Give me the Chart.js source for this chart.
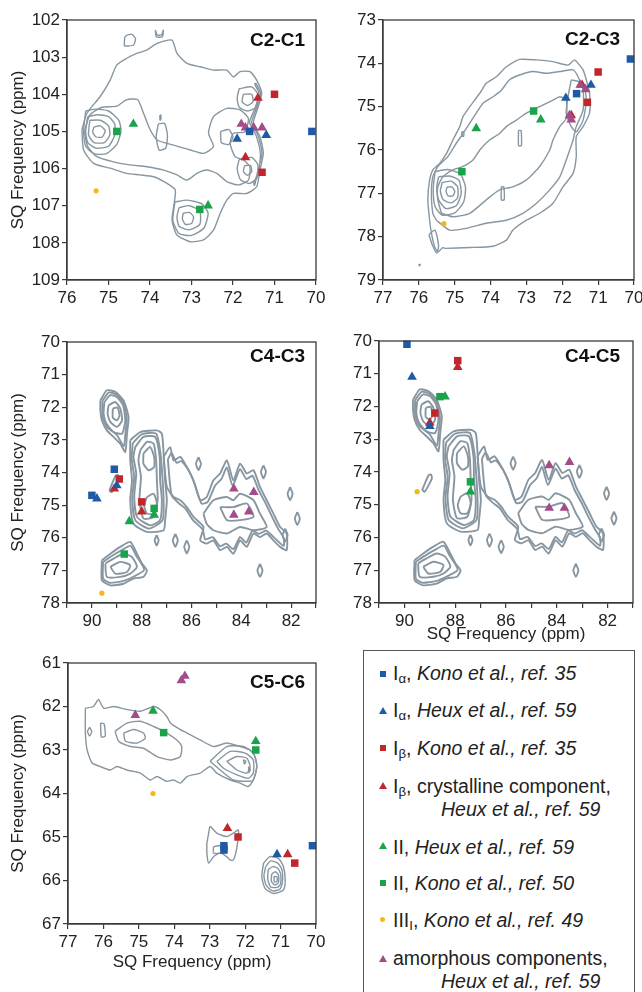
<!DOCTYPE html>
<html>
<head>
<meta charset="utf-8">
<script src="https://cdn.jsdelivr.net/npm/chart.js@4.4.1/dist/chart.umd.min.js"></script>
<style>
  body { margin: 0; background: #fff; width: 642px; height: 992px; position: relative; overflow: hidden; font-family: "Liberation Sans", Arial, sans-serif; }
  .panel { position: absolute; }
  #legend { position: absolute; left: 363px; top: 650px; width: 272px; height: 360px; border: 1.3px solid #555; box-sizing: border-box; font-size: 19.5px; color: #222; }
  #legend .row { position: absolute; left: 29px; white-space: nowrap; line-height: 22px; }
  #legend .row.cont { left: 77px; }
  #legend sub { font-size: 0.68em; vertical-align: -0.25em; }
  #legend .mk { position: absolute; }
  .sq { width: 6px; height: 6px; }
  .tri { width: 8px; height: 7px; clip-path: polygon(50% 0, 100% 100%, 0 100%); }
  .dot { width: 5px; height: 5px; border-radius: 50%; }
</style>
</head>
<body>
<div class="panel" style="left:0;top:0"><canvas id="c21" width="330" height="310"></canvas></div>
<div class="panel" style="left:330px;top:0"><canvas id="c23" width="320" height="310"></canvas></div>
<div class="panel" style="left:0;top:310px"><canvas id="c43" width="330" height="330"></canvas></div>
<div class="panel" style="left:330px;top:310px"><canvas id="c45" width="320" height="335"></canvas></div>
<div class="panel" style="left:0;top:640px"><canvas id="c56" width="330" height="352"></canvas></div>

<div id="legend">
  <div class="mk sq" style="left:16px;top:20px;background:#1f5aa6"></div>
  <div class="row" style="top:11px">I<sub>α</sub>, <i>Kono et al., ref. 35</i></div>
  <div class="mk tri" style="left:15px;top:56px;background:#1f5aa6"></div>
  <div class="row" style="top:48px">I<sub>α</sub>, <i>Heux et al., ref. 59</i></div>
  <div class="mk sq" style="left:16px;top:94px;background:#c0272d"></div>
  <div class="row" style="top:86px">I<sub>β</sub>, <i>Kono et al., ref. 35</i></div>
  <div class="mk tri" style="left:15px;top:131px;background:#c0272d"></div>
  <div class="row" style="top:124px">I<sub>β</sub>, crystalline component,</div>
  <div class="row cont" style="top:147px"><i>Heux et al., ref. 59</i></div>
  <div class="mk tri" style="left:15px;top:191px;background:#19a34a"></div>
  <div class="row" style="top:185px">II, <i>Heux et al., ref. 59</i></div>
  <div class="mk sq" style="left:16px;top:229px;background:#19a34a"></div>
  <div class="row" style="top:221px">II, <i>Kono et al., ref. 50</i></div>
  <div class="mk dot" style="left:16px;top:266px;background:#f7b719"></div>
  <div class="row" style="top:258px">III<sub>I</sub>, <i>Kono et al., ref. 49</i></div>
  <div class="mk tri" style="left:15px;top:304px;background:#a24c8a"></div>
  <div class="row" style="top:296px">amorphous components,</div>
  <div class="row cont" style="top:319px"><i>Heux et al., ref. 59</i></div>
</div>

<script>
// contour lines, [x ppm, y ppm] pairs; each list is one closed loop
const c21Contours = [
  [[75.64,104.96],[75.52,104.51],[75.20,104.06],[74.96,103.62],[74.80,103.21],[74.56,103.03],[74.32,102.90],[74.08,102.81],[73.83,102.63],[73.47,102.54],[73.35,102.90],[73.11,103.17],[72.79,103.26],[72.47,103.35],[72.15,103.35],[71.99,103.53],[71.83,103.39],[71.59,103.39],[71.43,103.62],[71.31,103.97],[71.39,104.33],[71.51,104.78],[71.35,105.14],[71.27,105.59],[71.35,106.04],[71.43,106.49],[71.67,106.67],[71.99,106.67],[72.15,106.85],[72.31,107.21],[72.47,107.66],[72.71,107.92],[73.03,107.97],[73.35,107.79],[73.47,107.39],[73.43,107.03],[73.39,106.58],[73.59,106.40],[73.91,106.22],[74.24,106.17],[74.56,106.13],[74.96,105.99],[75.36,105.86],[75.60,105.50]],
  [[75.58,105.01],[75.45,104.56],[75.16,104.35],[74.80,104.32],[74.57,104.15],[74.30,104.14],[74.17,104.47],[74.01,104.92],[73.83,105.23],[73.43,105.37],[73.03,105.50],[72.71,105.59],[72.47,105.41],[72.59,105.05],[72.47,104.60],[72.15,104.38],[71.83,104.42],[71.63,104.65],[71.71,105.01],[71.99,105.05],[72.07,105.32],[71.95,105.68],[71.75,105.77],[71.59,105.95],[71.63,106.31],[71.87,106.44],[72.15,106.35],[72.39,106.13],[72.63,106.04],[72.87,106.13],[73.11,106.31],[73.35,106.17],[73.67,106.04],[74.08,105.95],[74.48,105.90],[74.88,105.82],[75.28,105.68],[75.50,105.41]],
  [[75.55,104.45],[75.30,104.40],[75.00,104.45],[74.75,104.70],[74.70,105.00],[74.80,105.35],[75.05,105.60],[75.35,105.60],[75.55,105.40],[75.60,105.00]],
  [[75.50,104.60],[75.25,104.55],[75.00,104.60],[74.85,104.80],[74.85,105.10],[75.00,105.40],[75.30,105.45],[75.50,105.30],[75.55,105.00]],
  [[75.45,104.70],[75.20,104.70],[75.00,104.85],[74.97,105.10],[75.10,105.30],[75.35,105.30],[75.48,105.10]],
  [[75.35,104.88],[75.20,104.85],[75.08,104.98],[75.15,105.15],[75.30,105.15],[75.38,105.02]],
  [[73.40,106.90],[73.10,106.85],[72.75,106.95],[72.60,107.20],[72.70,107.60],[73.00,107.80],[73.30,107.75],[73.45,107.40]],
  [[73.30,107.05],[73.05,107.00],[72.80,107.15],[72.80,107.50],[73.05,107.65],[73.30,107.55],[73.35,107.30]],
  [[73.20,107.20],[73.05,107.18],[72.95,107.30],[73.00,107.48],[73.15,107.50],[73.22,107.35]],
  [[71.85,103.85],[71.55,103.80],[71.40,104.00],[71.45,104.35],[71.65,104.45],[71.85,104.35],[71.90,104.10]],
  [[71.75,104.00],[71.55,104.00],[71.52,104.20],[71.65,104.30],[71.78,104.20]],
  [[71.85,105.75],[71.55,105.70],[71.40,105.90],[71.42,106.25],[71.60,106.40],[71.82,106.30],[71.90,106.00]],
  [[71.72,105.92],[71.58,105.92],[71.55,106.08],[71.65,106.18],[71.75,106.08]],
  [[71.45,103.70],[71.33,103.98],[71.42,104.35],[71.55,104.75],[71.40,105.10],[71.30,105.60],[71.40,106.05],[71.48,106.45],[71.50,106.40],[71.38,106.05],[71.34,105.60],[71.44,105.12],[71.60,104.75],[71.46,104.35],[71.37,103.98],[71.48,103.72]],
  [[72.30,105.00],[72.10,104.95],[72.00,105.15],[72.10,105.35],[72.28,105.30]],
  [[73.80,104.80],[73.65,104.78],[73.58,105.10],[73.62,105.45],[73.78,105.50],[73.85,105.15]],
  [[74.62,102.70],[74.60,102.45],[74.45,102.38],[74.35,102.50],[74.40,102.68]],
  [[73.87,102.27],[73.85,102.45],[73.70,102.45],[73.68,102.27],[73.72,102.40],[73.83,102.40]],
  [[73.76,104.56],[73.74,104.56],[73.74,104.69],[73.76,104.69]]
];

const c23Contours = [
  [[75.28,78.27],[74.58,78.25],[73.93,78.22],[73.56,78.08],[73.38,77.85],[73.00,77.62],[72.63,77.46],[72.26,77.23],[71.98,76.85],[71.70,76.54],[71.61,76.15],[71.61,75.69],[71.42,75.46],[71.24,75.15],[71.24,74.69],[71.33,74.38],[71.42,74.15],[71.56,74.00],[71.66,73.92],[71.84,74.04],[72.26,73.96],[72.72,73.92],[73.19,73.91],[73.56,74.08],[73.84,74.31],[74.12,74.46],[74.30,74.69],[74.58,75.00],[74.77,75.23],[74.86,75.46],[75.05,75.77],[75.23,76.08],[75.42,76.31],[75.61,76.46],[75.70,76.69],[75.75,77.15],[75.70,77.62],[75.65,77.92],[75.56,78.23],[75.47,78.35],[75.33,78.25]],
  [[75.51,77.62],[75.14,77.85],[74.68,77.81],[74.12,77.69],[73.56,77.62],[73.10,77.46],[72.72,77.23],[72.35,76.92],[72.07,76.62],[71.89,76.23],[71.70,75.77],[71.61,75.46],[71.42,75.08],[71.42,74.62],[71.56,74.31],[71.70,74.15],[72.07,74.19],[72.45,74.23],[72.82,74.19],[73.19,74.27],[73.47,74.38],[73.70,74.62],[73.93,74.77],[74.21,74.92],[74.40,75.15],[74.58,75.38],[74.77,75.62],[74.96,75.85],[75.19,76.15],[75.47,76.38],[75.61,76.62],[75.65,77.00],[75.61,77.46]],
  [[75.37,77.46],[75.05,77.54],[74.58,77.46],[74.12,77.15],[73.75,76.92],[73.38,76.85],[73.00,76.69],[72.63,76.38],[72.35,76.00],[72.26,75.77],[72.07,75.46],[71.89,75.27],[71.89,74.85],[72.07,74.77],[72.26,74.85],[72.63,75.00],[73.00,75.15],[73.28,75.31],[73.56,75.46],[73.75,75.62],[74.03,75.77],[74.30,76.00],[74.49,76.23],[74.77,76.38],[75.05,76.46],[75.33,76.62],[75.47,76.85],[75.47,77.15]],
  [[75.55,76.50],[75.20,76.45],[74.85,76.55],[74.70,76.85],[74.75,77.20],[75.00,77.45],[75.35,77.50],[75.55,77.30],[75.60,76.90]],
  [[75.45,76.62],[75.15,76.60],[74.88,76.70],[74.82,77.00],[74.95,77.28],[75.25,77.35],[75.45,77.15],[75.50,76.85]],
  [[75.35,76.75],[75.10,76.72],[74.92,76.85],[74.92,77.10],[75.10,77.22],[75.32,77.15],[75.40,76.95]],
  [[75.22,76.86],[75.08,76.85],[75.00,76.95],[75.05,77.06],[75.18,77.06],[75.24,76.96]],
  [[71.75,74.38],[71.42,74.46],[71.33,74.85],[71.42,75.31],[71.61,75.58],[71.75,75.46],[71.89,75.15],[71.84,74.77]],
  [[73.22,75.55],[73.15,75.55],[73.14,75.90],[73.22,75.90]],
  [[73.70,76.85],[73.63,76.85],[73.62,77.15],[73.70,77.15]],
  [[74.80,75.58],[74.75,75.58],[74.75,75.68],[74.80,75.68]],
  [[75.72,77.95],[75.55,77.85],[75.45,78.20],[75.50,78.38],[75.62,78.20]],
  [[75.98,78.63],[75.96,78.65],[75.98,78.67],[76.00,78.65]]
];

// C4-C3 and C4-C5 come from the same spectrum region
const c4Contours = [
  [[89.66,71.79],[89.40,71.48],[89.06,71.53],[88.73,71.79],[88.53,72.30],[88.59,72.81],[88.66,73.37],[88.86,73.12],[89.13,72.91],[89.40,72.71],[89.60,72.40],[89.66,72.09]],
  [[89.58,71.81],[89.33,71.55],[89.02,71.61],[88.74,71.86],[88.60,72.35],[88.66,72.85],[88.72,73.20],[89.00,72.85],[89.40,72.60],[89.57,72.30]],
  [[89.50,71.84],[89.26,71.63],[88.99,71.69],[88.75,71.94],[88.66,72.40],[88.79,72.81],[89.13,72.76],[89.42,72.50],[89.53,72.20]],
  [[89.33,71.94],[89.06,71.84],[88.86,72.04],[88.79,72.40],[88.99,72.60],[89.26,72.45],[89.37,72.20]],
  [[89.16,72.04],[88.97,72.01],[88.89,72.25],[88.99,72.40],[89.16,72.32]],
  [[88.46,73.01],[88.06,72.76],[87.39,72.71],[87.19,72.81],[87.12,73.42],[87.06,74.24],[86.99,74.85],[87.06,75.46],[87.12,75.77],[87.79,75.82],[88.33,75.57],[88.46,74.85],[88.39,74.24],[88.46,73.63]],
  [[88.36,73.10],[88.00,72.83],[87.42,72.81],[87.24,73.45],[87.16,74.24],[87.12,74.85],[87.16,75.46],[87.70,75.72],[88.26,75.46],[88.38,74.80],[88.30,74.14],[88.40,73.58]],
  [[88.26,73.22],[87.93,72.91],[87.46,72.91],[87.28,73.52],[87.26,74.24],[87.19,74.85],[87.26,75.46],[87.66,75.62],[88.19,75.36],[88.30,74.75],[88.22,74.03],[88.33,73.52]],
  [[88.06,73.32],[87.79,73.06],[87.52,73.12],[87.42,73.63],[87.39,74.24],[87.36,74.85],[87.52,75.36],[87.93,75.41],[88.09,74.85],[88.03,74.14],[88.13,73.63]],
  [[87.93,73.42],[87.66,73.22],[87.50,73.52],[87.50,73.83],[87.72,73.93],[87.93,73.73]],
  [[87.79,74.75],[87.52,74.65],[87.39,74.95],[87.52,75.26],[87.79,75.26],[87.90,75.01]],
  [[87.12,73.52],[86.86,73.22],[86.72,73.63],[86.45,73.52],[86.19,73.83],[85.92,74.24],[85.65,74.85],[85.39,74.75],[85.12,74.24],[84.85,74.03],[84.58,73.63],[84.32,74.24],[84.05,73.73],[83.78,74.03],[83.51,73.93],[83.25,74.44],[82.98,74.85],[82.71,75.26],[82.44,75.67],[82.18,75.87],[82.18,76.38],[82.44,76.28],[82.71,76.08],[82.98,75.87],[83.25,75.98],[83.51,75.87],[83.78,76.28],[84.05,76.08],[84.32,76.49],[84.58,76.28],[84.85,76.38],[85.12,76.08],[85.39,76.18],[85.65,76.08],[85.52,75.67],[85.92,75.36],[86.19,75.06],[86.45,74.85],[86.72,74.75],[86.99,74.44]],
  [[86.95,73.60],[86.80,73.40],[86.60,73.70],[86.40,73.65],[86.10,73.95],[85.85,74.40],[85.60,74.95],[85.35,74.90],[85.05,74.40],[84.80,74.20],[84.58,73.85],[84.35,74.40],[84.05,73.90],[83.80,74.20],[83.55,74.10],[83.30,74.55],[83.00,74.98],[82.75,75.38],[82.50,75.75],[82.30,76.00],[82.30,76.25],[82.70,75.98],[83.00,75.78],[83.30,75.88],[83.55,75.78],[83.80,76.15],[84.05,75.98],[84.32,76.35],[84.60,76.18],[84.85,76.26],[85.15,75.98],[85.45,76.05],[85.55,75.75],[85.95,75.45],[86.25,75.10],[86.50,74.95],[86.80,74.70]],
  [[85.52,75.26],[85.12,74.85],[84.58,74.75],[84.32,74.85],[84.05,74.65],[83.51,74.85],[83.25,75.26],[82.98,75.67],[83.51,75.77],[84.05,75.67],[84.58,75.87],[85.12,75.77],[85.39,75.57]],
  [[84.85,75.06],[84.32,75.06],[83.78,74.95],[83.51,75.36],[84.05,75.46],[84.58,75.46]],
  [[89.60,76.69],[89.26,76.49],[88.86,76.28],[88.46,76.13],[88.19,76.49],[87.99,76.79],[87.79,77.00],[87.93,77.20],[88.33,77.25],[88.73,77.41],[89.26,77.46],[89.60,77.30]],
  [[89.55,76.74],[89.20,76.56],[88.80,76.38],[88.45,76.25],[88.22,76.55],[87.90,76.98],[88.30,77.18],[88.75,77.33],[89.30,77.38],[89.55,77.25]],
  [[89.46,76.79],[89.13,76.64],[88.73,76.49],[88.39,76.59],[88.19,76.89],[88.46,77.10],[88.86,77.20],[89.40,77.20]],
  [[89.26,76.89],[88.86,76.74],[88.46,76.84],[88.59,77.05],[89.06,77.10]],
  [[89.30,74.55],[89.20,74.60],[88.92,74.20],[88.95,74.08],[89.05,74.10]],
  [[85.72,73.53],[85.62,73.73],[85.72,73.93],[85.82,73.73]],
  [[83.11,73.78],[83.01,73.98],[83.11,74.18],[83.21,73.98]],
  [[82.04,74.45],[81.94,74.65],[82.04,74.85],[82.14,74.65]],
  [[81.75,75.21],[81.65,75.41],[81.75,75.61],[81.85,75.41]],
  [[86.65,75.88],[86.55,76.08],[86.65,76.28],[86.75,76.08]],
  [[86.19,76.08],[86.09,76.28],[86.19,76.48],[86.29,76.28]],
  [[83.25,76.80],[83.15,77.00],[83.25,77.20],[83.35,77.00]],
  [[82.24,75.72],[82.14,75.92],[82.24,76.12],[82.34,75.92]],
  [[87.40,75.92],[87.32,76.08],[87.40,76.24],[87.48,76.08]]
];

const c56Contours = [
  [[76.51,62.04],[76.28,62.00],[76.14,61.84],[75.99,62.04],[75.71,62.00],[75.34,62.07],[74.96,62.11],[74.58,62.00],[74.40,62.07],[74.21,62.23],[74.11,62.38],[73.83,62.53],[73.64,62.61],[73.27,62.77],[72.89,62.92],[72.52,62.84],[72.14,62.92],[71.86,63.00],[71.72,63.15],[71.67,63.38],[71.77,63.69],[71.91,63.84],[72.14,63.76],[72.42,63.69],[72.80,63.53],[72.99,63.38],[73.27,63.53],[73.64,63.61],[73.83,63.76],[74.02,63.69],[74.21,63.72],[74.49,63.61],[74.68,63.69],[74.96,63.53],[75.34,63.46],[75.62,63.38],[75.81,63.46],[76.09,63.38],[76.32,63.30],[76.46,63.00],[76.51,62.61]],
  [[75.67,62.57],[75.34,62.38],[74.96,62.34],[74.58,62.46],[74.21,62.61],[73.93,62.77],[73.79,62.92],[73.83,63.15],[74.11,63.23],[74.49,63.15],[74.87,62.96],[75.24,62.92],[75.57,62.80]],
  [[75.43,62.61],[75.15,62.53],[74.87,62.61],[74.82,62.73],[75.05,62.84],[75.38,62.80]],
  [[76.39,62.48],[76.33,62.57],[76.39,62.68],[76.45,62.57]],
  [[76.08,62.38],[75.98,62.40],[75.95,62.68],[76.06,62.70]],
  [[72.99,63.26],[72.52,62.92],[72.05,62.92],[71.77,63.07],[71.67,63.38],[71.77,63.69],[71.95,63.72],[72.33,63.69],[72.70,63.46]],
  [[72.80,63.26],[72.42,63.03],[72.00,63.07],[71.77,63.23],[71.77,63.53],[71.91,63.65],[72.23,63.57],[72.61,63.42]],
  [[72.52,63.26],[72.23,63.15],[71.95,63.19],[71.86,63.38],[71.95,63.53],[72.23,63.46]],
  [[72.05,63.22],[71.98,63.26],[72.02,63.32]],
  [[71.90,63.38],[71.85,63.45],[71.90,63.52]],
  [[73.08,65.14],[73.03,64.91],[72.99,64.76],[72.80,64.91],[72.52,64.99],[72.33,64.91],[72.19,64.84],[72.23,65.22],[72.33,65.53],[72.42,65.53],[72.52,65.45],[72.70,65.37],[72.89,65.45],[73.03,65.60],[73.08,65.37]],
  [[72.89,65.22],[72.52,65.18],[72.52,65.34],[72.89,65.37]],
  [[71.48,65.60],[71.30,65.45],[71.06,65.49],[70.92,65.68],[70.87,65.99],[70.92,66.22],[71.20,66.30],[71.44,66.18],[71.53,65.91]],
  [[71.42,65.68],[71.28,65.55],[71.08,65.60],[70.96,65.75],[70.95,66.05],[71.02,66.20],[71.22,66.24],[71.40,66.12],[71.47,65.90]],
  [[71.35,65.75],[71.22,65.68],[71.08,65.72],[71.00,65.85],[71.00,66.08],[71.10,66.16],[71.28,66.15],[71.36,65.98]],
  [[71.25,65.85],[71.15,65.80],[71.06,65.88],[71.06,66.05],[71.16,66.10],[71.26,66.02]],
  [[71.18,65.90],[71.10,65.92],[71.10,66.02],[71.18,66.03]]
];

// literature shifts [x ppm, y ppm]
const c21IaKono = [[71.6,105.0],[70.1,105.0]];
const c21IaHeux = [[71.9,105.2],[71.2,105.1]];
const c21IbKono = [[71.0,104.0],[71.3,106.1]];
const c21IbHeux = [[71.4,104.1],[71.7,105.7]];
const c21IIHeux = [[74.4,104.8],[72.6,107.0]];
const c21IIKono = [[74.8,105.0],[72.8,107.1]];
const c21IIIKono = [[75.3,106.6]];
const c21Amorph = [[71.8,104.8],[71.7,104.9],[71.5,104.9],[71.3,104.9]];

const c23IaKono = [[70.1,73.9],[71.6,74.7]];
const c23IaHeux = [[71.9,74.8],[71.2,74.5]];
const c23IbKono = [[71.0,74.2],[71.3,74.9]];
const c23IbHeux = [[71.75,75.2],[71.45,74.5]];
const c23IIHeux = [[74.4,75.5],[72.6,75.3]];
const c23IIKono = [[74.8,76.5],[72.8,75.1]];
const c23IIIKono = [[75.3,77.7]];
const c23Amorph = [[71.5,74.5],[71.35,74.6],[71.8,75.2],[71.75,75.3]];

const c43IaKono = [[89.1,73.9],[90.0,74.7]];
const c43IaHeux = [[89.8,74.8],[89.0,74.4]];
const c43IbKono = [[88.9,74.2],[88.0,74.9]];
const c43IbHeux = [[89.1,74.5],[88.0,75.2]];
const c43IIHeux = [[88.5,75.5],[87.5,75.3]];
const c43IIKono = [[87.5,75.1],[88.7,76.5]];
const c43IIIKono = [[89.6,77.7]];
const c43Amorph = [[84.3,74.5],[83.5,74.6],[84.3,75.3],[83.7,75.2]];

const c45IaKono = [[89.9,70.1]];
const c45IaHeux = [[89.7,71.1],[89.0,72.6]];
const c45IbKono = [[87.9,70.6],[88.8,72.2]];
const c45IbHeux = [[87.9,70.8],[89.0,72.5]];
const c45IIHeux = [[88.4,71.7],[87.4,74.6]];
const c45IIKono = [[88.6,71.7],[87.4,74.3]];
const c45IIIKono = [[89.5,74.6]];
const c45Amorph = [[84.3,73.8],[83.5,73.7],[84.3,75.1],[83.7,75.1]];

const c56IaKono = [[72.6,65.2],[72.6,65.3],[70.1,65.2]];
const c56IaHeux = [[71.1,65.4]];
const c56IbKono = [[72.2,65.0],[70.6,65.6]];
const c56IbHeux = [[72.5,64.8],[70.8,65.4]];
const c56IIHeux = [[74.6,62.1],[71.7,62.8]];
const c56IIKono = [[74.3,62.6],[71.7,63.0]];
const c56IIIKono = [[74.6,64.0]];
const c56Amorph = [[73.7,61.3],[73.8,61.4],[75.1,62.2]];

// drawing order: first entry ends up on top
const seriesStyles = [
  { color: '#1f5aa6', shape: 'rect', r: 5.3 },      // Ia Kono
  { color: '#1f5aa6', shape: 'triangle', r: 5.6 },  // Ia Heux
  { color: '#a24c8a', shape: 'triangle', r: 5.6 },  // amorphous
  { color: '#c0272d', shape: 'rect', r: 5.3 },      // Ib Kono
  { color: '#c0272d', shape: 'triangle', r: 5.6 },  // Ib Heux
  { color: '#19a34a', shape: 'triangle', r: 5.6 },  // II Heux
  { color: '#19a34a', shape: 'rect', r: 5.3 },      // II Kono
  { color: '#f7b719', shape: 'circle', r: 2.6 }     // IIIi Kono
];

const contourColor = '#8796a0';
const axisColor = '#3a3a3a';

Chart.defaults.font.family = '"Liberation Sans", Arial, sans-serif';
Chart.defaults.color = '#222';

const toPts = pairs => pairs.map(p => ({ x: p[0], y: p[1] }));

const framePlugin = {
  id: 'frame',
  afterDraw(chart, args, opts) {
    const { ctx, chartArea: a } = chart;
    ctx.save();
    ctx.strokeStyle = axisColor;
    ctx.lineWidth = 1.3;
    ctx.strokeRect(a.left, a.top, a.right - a.left, a.bottom - a.top);
    ctx.font = 'bold 19px "Liberation Sans", Arial, sans-serif';
    ctx.fillStyle = '#111';
    ctx.textAlign = 'right';
    ctx.textBaseline = 'middle';
    ctx.fillText(opts.label, a.right - opts.dx, a.top + opts.dy);
    ctx.restore();
  }
};

function makePanel(p) {
  const datasets = [];
  p.markers.forEach((pts, i) => {
    const s = seriesStyles[i];
    datasets.push({
      data: toPts(pts),
      pointStyle: s.shape,
      pointRadius: s.r,
      pointBackgroundColor: s.color,
      pointBorderWidth: 0,
      showLine: false,
      clip: false
    });
  });
  p.contours.forEach(loop => {
    datasets.push({
      data: toPts(loop.concat([loop[0]])),
      showLine: true,
      pointRadius: 0,
      borderColor: contourColor,
      borderWidth: p.lineWidth,
      tension: 0.2,
      fill: false
    });
  });

  new Chart(document.getElementById(p.id), {
    type: 'scatter',
    data: { datasets },
    options: {
      responsive: false,
      animation: false,
      devicePixelRatio: 1,
      events: [],
      layout: { padding: { top: p.padTop, right: p.padRight, left: 0, bottom: 0 } },
      plugins: {
        legend: { display: false },
        tooltip: { enabled: false },
        frame: { label: p.label, dx: p.labelDx, dy: p.labelDy }
      },
      scales: {
        x: {
          type: 'linear',
          reverse: true,
          min: p.xMin,
          max: p.xMax,
          afterFit: s => { s.height = p.xHeight; },
          border: { color: axisColor, width: 1.3 },
          grid: { drawOnChartArea: false, drawTicks: true, tickLength: 5, color: axisColor, lineWidth: 1.2 },
          ticks: {
            stepSize: 1,
            autoSkip: false,
            maxRotation: 0,
            padding: 3,
            font: { size: 17 },
            callback: v => (p.xEvenOnly && v % 2 !== 0) ? '' : String(v)
          },
          title: { display: p.xTitle, text: 'SQ Frequency (ppm)', font: { size: 17 }, padding: { top: 0, bottom: p.xTitlePad } }
        },
        y: {
          type: 'linear',
          reverse: true,
          min: p.yMin,
          max: p.yMax,
          afterFit: s => { s.width = p.yWidth; },
          border: { color: axisColor, width: 1.3 },
          grid: { drawOnChartArea: false, drawTicks: true, tickLength: 5, color: axisColor, lineWidth: 1.2 },
          ticks: { stepSize: 1, autoSkip: false, padding: 2, font: { size: 17 }, callback: v => String(v) },
          title: { display: p.yTitle, text: 'SQ Frequency (ppm)', font: { size: 17 }, padding: { top: 8, bottom: 0 } }
        }
      }
    },
    plugins: [framePlugin]
  });
}

makePanel({
  id: 'c21', label: 'C2-C1', labelDx: 11, labelDy: 21,
  xMin: 70, xMax: 76, yMin: 102, yMax: 109,
  padTop: 20, padRight: 14, yWidth: 67, xHeight: 30,
  yTitle: true, xTitle: false, xTitlePad: 0, xEvenOnly: false, lineWidth: 1.4,
  contours: c21Contours,
  markers: [c21IaKono, c21IaHeux, c21Amorph, c21IbKono, c21IbHeux, c21IIHeux, c21IIKono, c21IIIKono]
});

makePanel({
  id: 'c23', label: 'C2-C3', labelDx: 14, labelDy: 20,
  xMin: 70, xMax: 77, yMin: 73, yMax: 79,
  padTop: 20, padRight: 16, yWidth: 53, xHeight: 30,
  yTitle: false, xTitle: false, xTitlePad: 0, xEvenOnly: false, lineWidth: 1.4,
  contours: c23Contours,
  markers: [c23IaKono, c23IaHeux, c23Amorph, c23IbKono, c23IbHeux, c23IIHeux, c23IIKono, c23IIIKono]
});

makePanel({
  id: 'c43', label: 'C4-C3', labelDx: 11, labelDy: 15,
  xMin: 81, xMax: 91, yMin: 70, yMax: 78,
  padTop: 32, padRight: 14, yWidth: 67, xHeight: 37,
  yTitle: true, xTitle: false, xTitlePad: 0, xEvenOnly: true, lineWidth: 1.9,
  contours: c4Contours,
  markers: [c43IaKono, c43IaHeux, c43Amorph, c43IbKono, c43IbHeux, c43IIHeux, c43IIKono, c43IIIKono]
});

makePanel({
  id: 'c45', label: 'C4-C5', labelDx: 13, labelDy: 16,
  xMin: 81, xMax: 91, yMin: 70, yMax: 78,
  padTop: 31, padRight: 17, yWidth: 49, xHeight: 42,
  yTitle: false, xTitle: true, xTitlePad: 0, xEvenOnly: true, lineWidth: 1.9,
  contours: c4Contours,
  markers: [c45IaKono, c45IaHeux, c45Amorph, c45IbKono, c45IbHeux, c45IIHeux, c45IIKono, c45IIIKono]
});

makePanel({
  id: 'c56', label: 'C5-C6', labelDx: 11, labelDy: 20,
  xMin: 70, xMax: 77, yMin: 61, yMax: 67,
  padTop: 23, padRight: 14, yWidth: 68, xHeight: 68,
  yTitle: true, xTitle: true, xTitlePad: 19, xEvenOnly: false, lineWidth: 1.4,
  contours: c56Contours,
  markers: [c56IaKono, c56IaHeux, c56Amorph, c56IbKono, c56IbHeux, c56IIHeux, c56IIKono, c56IIIKono]
});
</script>
</body>
</html>
